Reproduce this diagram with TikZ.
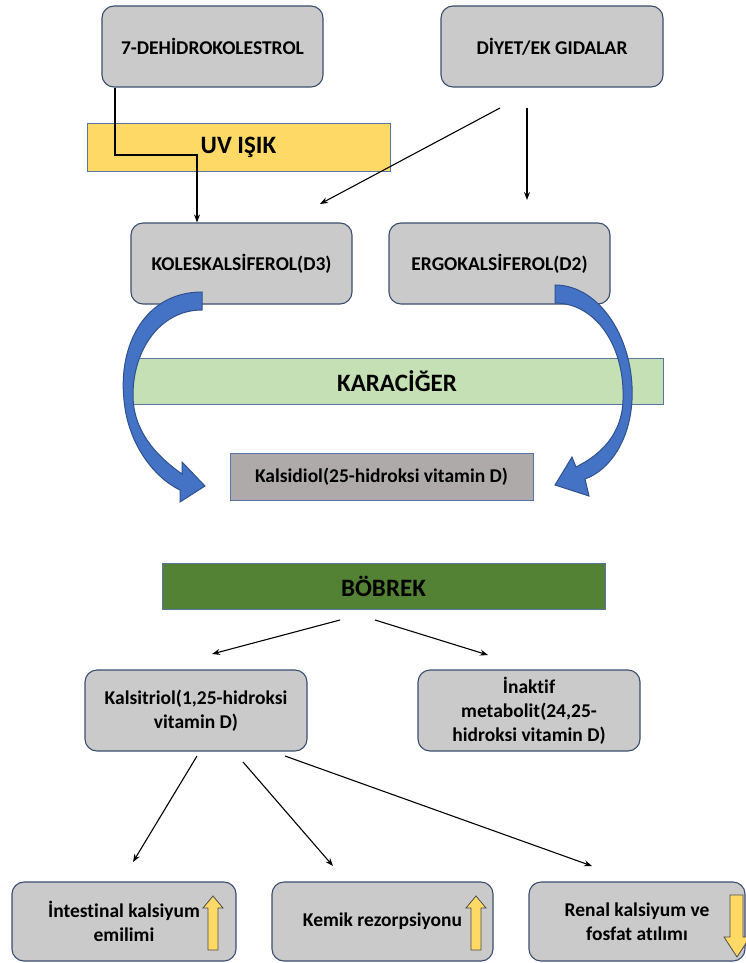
\documentclass[tikz,border=0pt]{standalone}
\usepackage{fontspec}
\setmainfont{Carlito}[Ligatures=NoCommon]
\usetikzlibrary{arrows.meta}
\definecolor{boxgray}{HTML}{CACACA}
\definecolor{boxline}{HTML}{3A4E6E}
\definecolor{uvyellow}{HTML}{FFD966}
\definecolor{liver}{HTML}{C5E0B4}
\definecolor{kidney}{HTML}{548235}
\definecolor{kalsgray}{HTML}{AEAAAA}
\definecolor{bandblue}{HTML}{4472C4}
\definecolor{bandline}{HTML}{2F528F}
\definecolor{upyellow}{HTML}{FFD966}
\tikzset{
  rbox/.style={draw=boxline, line width=1.1pt, fill=boxgray, rounded corners=12pt,
    align=center, font=\bfseries\fontsize{19.5}{24}\selectfont, inner sep=0pt},
  bar/.style={draw=bandline!80, line width=1pt, align=center, inner sep=0pt,
    font=\bfseries\fontsize{25}{30}\selectfont},
  arr/.style={-{Stealth[length=8pt,width=6pt]}, line width=1.1pt, black},
  curvearrow/.style={fill=bandblue, draw=bandline, line width=1pt},
  yarrow/.style={fill=upyellow, draw=black!70, line width=0.8pt}
}
\begin{document}
\begin{tikzpicture}[x=1pt,y=-1pt]
\useasboundingbox (0,0) rectangle (746,963);
\fill[white] (0,0) rectangle (746,963);
% top boxes
\node[rbox, minimum width=221pt, minimum height=81pt] (dehydro) at (212.5,46.5) {7-DEHİDROKOLESTROL};
\node[rbox, minimum width=222pt, minimum height=81pt] (diyet) at (552,46.5) {DİYET/EK GIDALAR};
\node[bar, fill=uvyellow, minimum width=303pt, minimum height=47pt] (uv) at (238.5,147.5) {UV IŞIK};
\node[rbox, minimum width=221pt, minimum height=81pt] (d3) at (241.5,263.5) {KOLESKALSİFEROL(D3)};
\node[rbox, minimum width=221pt, minimum height=81pt] (d2) at (499.5,263.5) {ERGOKALSİFEROL(D2)};
\node[bar, fill=liver, minimum width=532pt, minimum height=46pt] (liver) at (397,381) {KARACİĞER};
\node[bar, fill=kalsgray, minimum width=303pt, minimum height=47pt, font=\bfseries\fontsize{19.5}{24}\selectfont] (kalsidiol) at (381.5,476.5) {Kalsidiol(25-hidroksi vitamin D)};
\node[bar, fill=kidney, minimum width=443pt, minimum height=46pt] (kidney) at (383.5,586) {BÖBREK};
\node[rbox, minimum width=222pt, minimum height=81pt] (kalsitriol) at (196,710.5) {Kalsitriol(1,25-hidroksi\\vitamin D)};
\node[rbox, minimum width=222pt, minimum height=81pt] (inaktif) at (529,710.5) {İnaktif\\metabolit(24,25-\\hidroksi vitamin D)};
\node[rbox, minimum width=224pt, minimum height=79pt] (b1) at (124,921.5) {İntestinal kalsiyum\\emilimi};
\node[rbox, minimum width=221pt, minimum height=79pt] (b2) at (382.5,921.5) {Kemik rezorpsiyonu};
\node[rbox, minimum width=216pt, minimum height=79pt] (b3) at (637,921.5) {Renal kalsiyum ve\\fosfat atılımı};
% UV connector
\coordinate (c1) at (115,155);
\coordinate (c2) at (197,155);
\draw[arr] (dehydro.south -| c1) -- (c1) -- (c2) -- (d3.north -| c2);
% diet arrows
\coordinate (s1) at (500,108);
\coordinate (e1) at (320,204);
\coordinate (s2) at (527,108);
\coordinate (e2) at (527,200);
\draw[arr] (s1) -- (e1);
\draw[arr] (s2) -- (e2);
% kidney arrows
\coordinate (k1) at (340,620);
\coordinate (k1e) at (212,654);
\coordinate (k2) at (375,620);
\coordinate (k2e) at (488,655);
\draw[arr] (k1) -- (k1e);
\draw[arr] (k2) -- (k2e);
% kalsitriol arrows
\coordinate (t1) at (197,756);
\coordinate (t1e) at (133,862);
\coordinate (t2) at (243,762);
\coordinate (t2e) at (333,866);
\coordinate (t3) at (285,756);
\coordinate (t3e) at (592,866);
\draw[arr] (t1) -- (t1e);
\draw[arr] (t2) -- (t2e);
\draw[arr] (t3) -- (t3e);
% curved block arrows
\draw[curvearrow] (202,292) .. controls (145,292) and (118,345) .. (124,400)
  .. controls (128,445) and (155,478) .. (180,490) -- (180,502) -- (205,486) -- (182,462) -- (182,474)
  .. controls (155,455) and (133,430) .. (133,395) .. controls (133,350) and (160,310) .. (202,310) -- cycle;
\draw[curvearrow] (555,285) .. controls (600,285) and (635,340) .. (632,400)
  .. controls (630,440) and (610,470) .. (585,479) -- (589,496) -- (555,485) -- (572,457) -- (576,467)
  .. controls (600,455) and (622,435) .. (623,400) .. controls (625,345) and (595,303) .. (555,303) -- cycle;
% yellow up/down arrows
\draw[yarrow] (208,950) -- (208,908) -- (203,908) -- (213,896) -- (223,908) -- (218,908) -- (218,950) -- cycle;
\draw[yarrow] (471,950) -- (471,908) -- (466,908) -- (476,896) -- (486,908) -- (481,908) -- (481,950) -- cycle;
\draw[yarrow] (730,895) -- (743,895) -- (743,937) -- (750,937) -- (737,957) -- (724,937) -- (730,937) -- cycle;
\end{tikzpicture}
\end{document}
